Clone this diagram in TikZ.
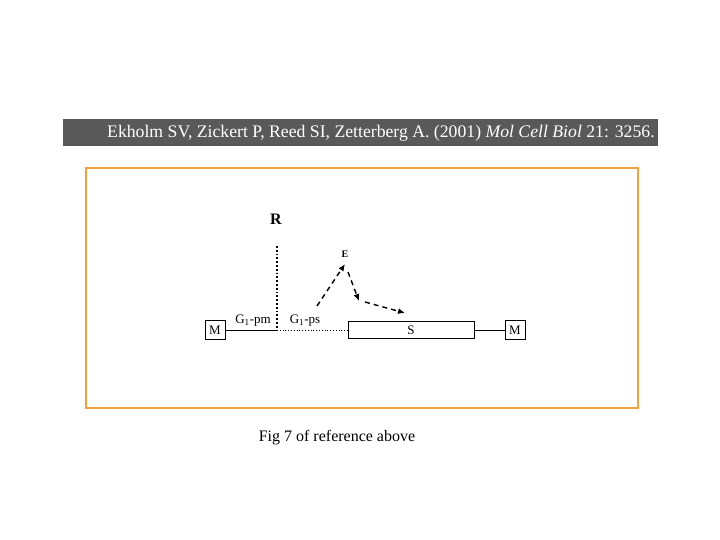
\documentclass[tikz,border=0pt]{standalone}
\usepackage{fontspec}
\setmainfont{Liberation Serif}
\usetikzlibrary{arrows.meta}
\definecolor{banner}{HTML}{595959}
\definecolor{frameor}{HTML}{F0A040}
\tikzset{
  mbox/.style={draw, line width=0.9pt, minimum width=20pt, minimum height=19pt, inner sep=0pt, font=\fontsize{13}{13}\selectfont},
  glabel/.style={font=\fontsize{13}{13}\selectfont, inner sep=0pt},
  dasharrow/.style={line width=1.4pt, dash pattern=on 5pt off 4pt, -{Latex[length=7pt,width=6pt]}},
}
\begin{document}
\begin{tikzpicture}[x=1pt,y=-1pt]
\useasboundingbox (0,0) rectangle (720,540);
\fill[banner] (63,119) rectangle (658,146);
\node[text=white, font=\fontsize{17.7}{17.7}\selectfont, anchor=west, inner sep=0pt] (cite) at (107,133)
  {Ekholm SV, Zickert P, Reed SI, Zetterberg A. (2001) \textit{Mol Cell Biol} 21: 3256.};
\draw[frameor, line width=2.5pt] (86,168) rectangle (638,408);
\node[font=\bfseries\fontsize{16}{16}\selectfont, inner sep=0pt] (R) at (276,219) {R};
\coordinate (rtop) at (277,246);
\coordinate (rbot) at (277,330);
\draw[line width=1.8pt, dotted] (rtop) -- (rbot);
\node[mbox] (ML) at (215,330) {M};
\node[draw, line width=0.9pt, minimum width=126pt, minimum height=17pt, inner sep=0pt, font=\fontsize{13}{13}\selectfont] (S) at (411,330) {S};
\node[mbox] (MR) at (515,330) {M};
\draw[line width=0.8pt] (ML.east) -- (rbot);
\draw[line width=0.8pt, dotted] (rbot) -- (S.west);
\draw[line width=0.8pt] (S.east) -- (MR.west);
\node[glabel] (gpm) at (253,321) {G\textsubscript{1}-pm};
\node[glabel] (gps) at (305,321) {G\textsubscript{1}-ps};
\node[font=\bfseries\fontsize{10}{10}\selectfont, inner sep=0pt] (E) at (345,254) {E};
\coordinate (a0) at (317,306);
\coordinate (a1) at (345,264);
\coordinate (b0) at (348,272);
\coordinate (b1) at (359,301);
\coordinate (c0) at (365,302);
\coordinate (c1) at (405,313);
\draw[dasharrow] (a0) -- (a1);
\draw[dasharrow] (b0) -- (b1);
\draw[dasharrow] (c0) -- (c1);
\node[font=\fontsize{16}{16}\selectfont, inner sep=0pt] (cap) at (337,438) {Fig 7 of reference above};
\end{tikzpicture}
\end{document}
